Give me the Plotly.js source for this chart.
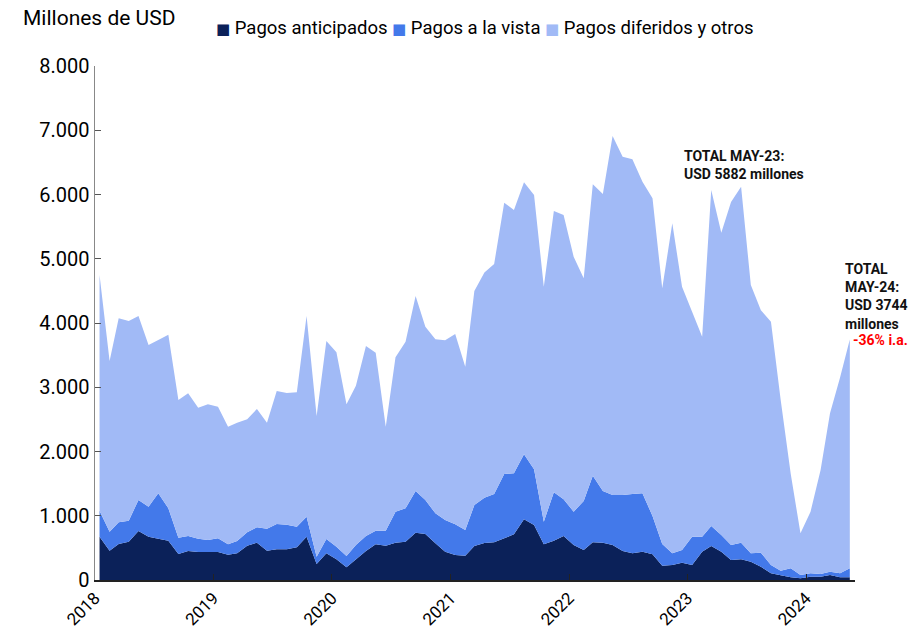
<!DOCTYPE html>
<html>
<head>
<meta charset="utf-8">
<script src="https://cdn.plot.ly/plotly-3.0.1.min.js"></script>
<style>
  html, body { margin: 0; padding: 0; background: #fff; }
  #chart { width: 909px; height: 636px; }
</style>
</head>
<body>
<div id="chart"></div>
<script>
// Monthly data, Jan 2018 – May 2024 (millones de USD)
const startYear = 2018;
const nMonths = 77;
const months = [];
for (let i = 0; i < nMonths; i++) {
  const y = startYear + Math.floor(i / 12);
  const m = (i % 12) + 1;
  months.push(y + '-' + String(m).padStart(2, '0') + '-15');
}

// Cumulative levels
const nivelAnticipados = [
  674, 456, 560, 597, 763, 674, 643, 612, 405, 451, 436, 436,
  436, 394, 415, 534, 581, 456, 477, 480, 510, 674, 249, 415,
  322, 197, 322, 451, 555, 534, 581, 597, 737, 716, 571, 441,
  389, 379, 530, 575, 587, 649, 711, 945, 856, 555, 612, 685,
  545, 467, 587, 581, 545, 451, 415, 441, 400, 223, 233, 270,
  233, 441, 529, 441, 311, 322, 285, 207, 104, 73, 42, 26,
  51, 51, 78, 42, 42
];
const nivelVista = [
  1079, 752, 898, 923, 1245, 1141, 1349, 1116, 659, 685, 643, 623,
  649, 555, 607, 742, 820, 799, 872, 860, 830, 985, 363, 638,
  519, 374, 545, 685, 768, 768, 1063, 1116, 1385, 1245, 1038, 934,
  867, 778, 1167, 1280, 1339, 1650, 1660, 1956, 1723, 908, 1365, 1256,
  1063, 1230, 1623, 1385, 1323, 1323, 1339, 1349, 996, 560, 415, 467,
  674, 674, 840, 700, 545, 581, 415, 425, 233, 145, 182, 78,
  104, 93, 130, 104, 182
];
const total = [
  4747, 3410, 4073, 4031, 4109, 3658, 3735, 3818, 2801, 2906, 2682, 2734,
  2698, 2386, 2449, 2501, 2661, 2449, 2942, 2910, 2921, 4109, 2552, 3720,
  3543, 2734, 3024, 3642, 3538, 2386, 3466, 3709, 4420, 3942, 3746, 3731,
  3829, 3320, 4500, 4786, 4918, 5873, 5759, 6190, 5992, 4565, 5743, 5681,
  5032, 4695, 6159, 6008, 6911, 6589, 6548, 6200, 5941, 4540, 5552, 4565,
  4176, 3787, 6070, 5406, 5882, 6121, 4591, 4200, 4020, 2800, 1650, 726,
  1063, 1712, 2594, 3150, 3744
];

// Series values
const pagosAnticipados = nivelAnticipados.slice();
const pagosVista = nivelVista.map((v, i) => v - nivelAnticipados[i]);
const pagosDiferidos = total.map((v, i) => v - nivelVista[i]);

const seriesNames = ['Pagos anticipados', 'Pagos a la vista', 'Pagos diferidos y otros'];
const colors = ['#0b2159', '#4379ea', '#a1baf6'];
const seriesValues = [pagosAnticipados, pagosVista, pagosDiferidos];

const traces = seriesValues.map((vals, k) => ({
  type: 'scatter',
  x: months,
  y: vals,
  name: seriesNames[k],
  stackgroup: 'one',
  mode: 'lines',
  line: { width: 0, color: colors[k] },
  fillcolor: colors[k],
  showlegend: false,
  hoverinfo: 'x+y+name'
}));

const font = 'Roboto, "Liberation Sans", Arial, sans-serif';

// legend drawn as one text line with coloured squares
const legendText = seriesNames.map((n, k) =>
  '<span style="color:' + colors[k] + ';font-family:DejaVu Sans;font-size:15px">■</span> ' + n
).join(' ');

const layout = {
  width: 909,
  height: 636,
  margin: { l: 95, r: 54, t: 66, b: 56 },
  paper_bgcolor: '#ffffff',
  plot_bgcolor: '#ffffff',
  separators: ',.',
  font: { family: font, color: '#000000' },
  showlegend: false,
  xaxis: {
    type: 'date',
    range: ['2018-01-01', '2024-05-31'],
    tick0: '2018-01-01',
    dtick: 'M12',
    tickformat: '%Y',
    tickangle: -45,
    ticks: 'inside',
    ticklen: 6,
    tickcolor: '#222',
    showline: true,
    linecolor: '#222',
    linewidth: 1.5,
    showgrid: false,
    zeroline: false,
    tickfont: { family: font, size: 17, color: '#000' },
    fixedrange: true
  },
  yaxis: {
    range: [0, 8000],
    dtick: 1000,
    tickformat: ',d',
    ticks: 'inside',
    ticklen: 6,
    tickcolor: '#555',
    showline: true,
    linecolor: '#888',
    linewidth: 1.5,
    showgrid: false,
    zeroline: false,
    tickfont: { family: font, size: 20, color: '#000' },
    fixedrange: true
  },
  annotations: [
    {
      xref: 'paper', yref: 'paper', x: -0.0975, y: 1.0934,
      xanchor: 'left', yanchor: 'middle',
      text: 'Millones de USD', showarrow: false,
      font: { family: font, size: 21, color: '#000' }
    },
    {
      xref: 'paper', yref: 'paper', x: 0.156, y: 1.074,
      xanchor: 'left', yanchor: 'middle',
      text: legendText, showarrow: false,
      font: { family: font, size: 18.5, color: '#000' }
    },
    {
      xref: 'paper', yref: 'paper', x: 0.772, y: 0.845,
      xanchor: 'left', yanchor: 'top', align: 'left',
      text: '<b>TOTAL MAY-23:<br>USD 5882 millones</b>', showarrow: false,
      font: { family: font, size: 14, color: '#111' }
    },
    {
      xref: 'paper', yref: 'paper', x: 0.984, y: 0.625,
      xanchor: 'left', yanchor: 'top', align: 'left',
      text: '<b>TOTAL<br>MAY-24:<br>USD 3744<br>millones</b>', showarrow: false,
      font: { family: font, size: 14, color: '#111' }
    },
    {
      xref: 'paper', yref: 'paper', x: 0.995, y: 0.467,
      xanchor: 'left', yanchor: 'middle', align: 'left',
      text: '<b>-36% i.a.</b>', showarrow: false,
      font: { family: font, size: 14, color: '#ff0000' }
    }
  ]
};

Plotly.newPlot('chart', traces, layout, { displayModeBar: false, staticPlot: true });
</script>
</body>
</html>
